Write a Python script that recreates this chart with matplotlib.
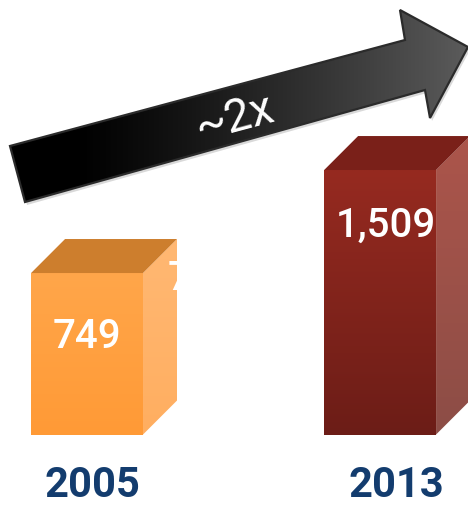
import numpy as np
import matplotlib
matplotlib.use('Agg')
import matplotlib.pyplot as plt
from matplotlib.patches import Polygon
from matplotlib.colors import to_rgb

# ---- data ----
years = ['2005', '2013']
values = [749, 1509]
value_labels = ['749', '1,509']
multiplier_label = '~2x'

# ---- style ----
front_top = ['#FFA64A', '#962A20']
front_bot = ['#FF9A36', '#6C1D17']
side_top = ['#FFB873', '#AC554B']
side_bot = ['#FFAE60', '#8C4D46']
top_col = ['#CD7E2D', '#7A2019']
year_color = '#133C6E'
label_offsets = [(0, -46), (4, -40)]      # points from bar top centre
year_offsets = [(4, -37), (12, -37)]      # points from baseline
base = -443
bar_w = 0.382
ddx, ddy = 0.116, 251

fig = plt.figure(figsize=(4.68, 5.05), dpi=100, facecolor='white')
ax = fig.add_axes([0, 0, 1, 1])
ax.axis('off')

pos = np.arange(len(values))
heights = [v - base for v in values]
bars = ax.bar(pos, heights, bottom=base, width=bar_w, color='none', edgecolor='none', zorder=2)


def grad_img(ax, extent, c_top, c_bot, clip, z):
    t = np.linspace(0, 1, 256)[:, None, None]
    a = np.array(to_rgb(c_top))[None, None, :]
    b = np.array(to_rgb(c_bot))[None, None, :]
    img = a * (1 - t) + b * t
    im = ax.imshow(img, extent=extent, origin='upper', aspect='auto',
                   zorder=z, interpolation='bilinear')
    im.set_clip_path(clip)
    return im


for i, (bar, v) in enumerate(zip(bars, values)):
    x0 = bar.get_x()
    x1 = x0 + bar.get_width()
    # front face
    grad_img(ax, (x0, x1, base, v), front_top[i], front_bot[i], bar, 2)
    # side face
    side = Polygon([(x1, base), (x1 + ddx, base + ddy), (x1 + ddx, v + ddy), (x1, v)],
                   closed=True, facecolor='none', edgecolor='none')
    ax.add_patch(side)
    grad_img(ax, (x1, x1 + ddx, base, v + ddy), side_top[i], side_bot[i], side, 2)
    # top face
    top = Polygon([(x0, v), (x0 + ddx, v + ddy), (x1 + ddx, v + ddy), (x1, v)],
                  closed=True, facecolor=top_col[i], edgecolor='none', zorder=3)
    ax.add_patch(top)
    # value label
    ax.annotate(value_labels[i], xy=(bar.get_x() + bar.get_width() / 2, v),
                xytext=label_offsets[i], textcoords='offset points',
                ha='center', va='center', color='white', fontsize=29,
                family='Roboto', fontweight='medium', zorder=5)
    # year label
    ax.annotate(years[i], xy=(bar.get_x() + bar.get_width() / 2, base),
                xytext=year_offsets[i], textcoords='offset points',
                ha='center', va='center', color=year_color, fontsize=30,
                fontweight='bold', family='Roboto', zorder=5, annotation_clip=False)

# stray duplicate label peeking on the orange side face
b0 = bars[0]
ax.annotate(value_labels[0], xy=(b0.get_x() + b0.get_width() + ddx, values[0] + ddy),
            xytext=(-6.5, -29), textcoords='offset points', ha='left', va='center',
            color='white', fontsize=29, family='Roboto', fontweight='medium', zorder=5)

ax.set_xlim(-0.297, 1.300)
ax.set_ylim(-963, 2764)

# ---- growth arrow (decoration, pixel space overlay) ----
deco = fig.add_axes([0, 0, 1, 1], zorder=3)
deco.set_xlim(0, 468)
deco.set_ylim(505, 0)
deco.axis('off')
deco.patch.set_alpha(0)

arrow_pts = [(10, 146), (405, 40), (400, 10), (468, 47), (430, 118), (425, 90), (25, 202)]
shadow = Polygon([(x + 2, y + 3) for x, y in arrow_pts], closed=True,
                 facecolor='#000000', alpha=0.15, edgecolor='none', zorder=1)
deco.add_patch(shadow)
arrow = Polygon(arrow_pts, closed=True, facecolor='none', edgecolor='#2b2b2b',
                linewidth=1.6, zorder=3, joinstyle='miter')
deco.add_patch(arrow)
xs = np.linspace(0, 1, 512)
g = np.clip((xs * 468 - 70) / 400, 0, 1) ** 1.2 * 0.36
img = np.repeat(g[None, :, None], 3, axis=2)
im = deco.imshow(img, extent=(0, 468, 210, 0), aspect='auto', zorder=2,
                 interpolation='bilinear')
im.set_clip_path(arrow)
deco.set_xlim(0, 468)
deco.set_ylim(505, 0)
deco.text(234, 118, multiplier_label, rotation=15, rotation_mode='anchor',
          ha='center', va='center', color='white', fontsize=33,
          family='Roboto', zorder=4)

fig.savefig('out.png', dpi=100, facecolor='white')
